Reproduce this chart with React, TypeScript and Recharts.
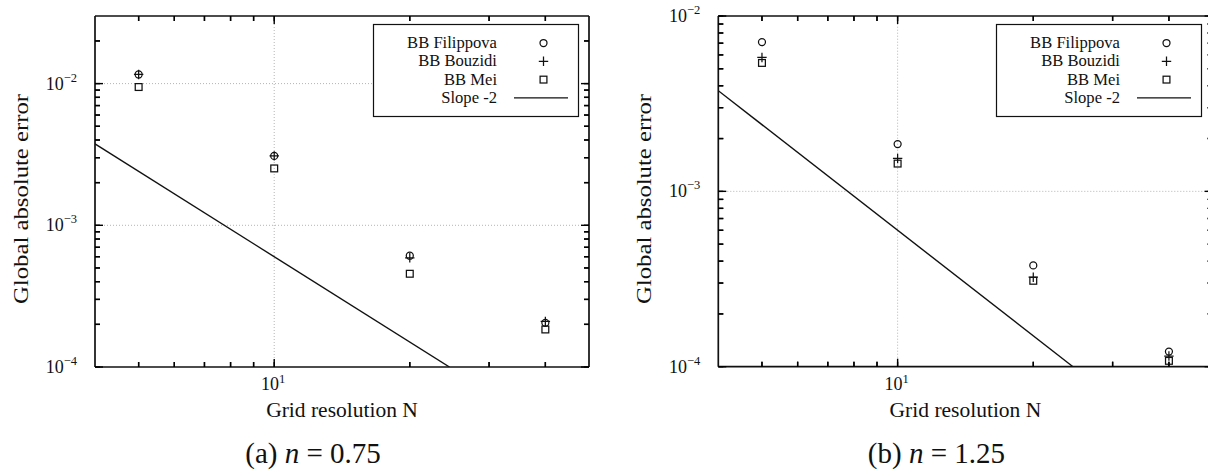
import React from 'react';
import { ComposedChart, Scatter, XAxis, YAxis, ReferenceLine, Legend } from 'recharts';

const FONT = '"Liberation Serif", "Times New Roman", Times, serif';
const INK = '#111111';
const GRID = '#b4b4b4';

// Grid resolutions N at which the error was measured
const gridN = [5, 10, 20, 40];

// (a) n = 0.75
const filippovaA = [0.0116, 0.00309, 6.1e-4, 2.05e-4];
const bouzidiA = [0.0116, 0.00309, 5.9e-4, 2.1e-4];
const meiA = [0.00946, 0.00252, 4.55e-4, 1.84e-4];

// (b) n = 1.25
const filippovaB = [7.1e-3, 1.86e-3, 3.78e-4, 1.22e-4];
const bouzidiB = [5.8e-3, 1.54e-3, 3.24e-4, 1.15e-4];
const meiB = [5.4e-3, 1.44e-3, 3.09e-4, 1.08e-4];

// Second-order reference line (slope -2), endpoints
const slopeN = [4, 24.5];
const slopeErr = [3.75e-3, 1e-4];

const seriesNames = ['BB Filippova', 'BB Bouzidi', 'BB Mei', 'Slope -2'];

const xTicks = [5, 6, 7, 8, 9, 10, 20, 30, 40];
const yTicksA = [
  1e-4, 2e-4, 3e-4, 4e-4, 5e-4, 6e-4, 7e-4, 8e-4, 9e-4,
  1e-3, 2e-3, 3e-3, 4e-3, 5e-3, 6e-3, 7e-3, 8e-3, 9e-3,
  1e-2, 2e-2,
];
const yTicksB = [
  1e-4, 2e-4, 3e-4, 4e-4, 5e-4, 6e-4, 7e-4, 8e-4, 9e-4,
  1e-3, 2e-3, 3e-3, 4e-3, 5e-3, 6e-3, 7e-3, 8e-3, 9e-3,
  1e-2,
];
const xGrid = [10];
const yGridA = [1e-3, 1e-2];
const yGridB = [1e-3];

const toPoints = (ys: number[]) => gridN.map((N, i) => ({ N, err: ys[i] }));
const slopePoints = slopeN.map((N, i) => ({ N, err: slopeErr[i] }));

const isDecade = (v: number) => Math.abs(Math.log10(v) - Math.round(Math.log10(v))) < 1e-6;
const expText = (v: number) => {
  const e = Math.round(Math.log10(v));
  return e < 0 ? '\u2212' + Math.abs(e) : String(e);
};

const CircleMark = (p: any) => (
  <circle cx={p.cx} cy={p.cy} r={3.5} fill="none" stroke={INK} strokeWidth={1.25} />
);
const PlusMark = (p: any) => (
  <path
    d={`M${p.cx - 4.7},${p.cy}H${p.cx + 4.7}M${p.cx},${p.cy - 4.7}V${p.cy + 4.7}`}
    fill="none"
    stroke={INK}
    strokeWidth={1.25}
  />
);
const SquareMark = (p: any) => (
  <rect x={p.cx - 3.4} y={p.cy - 3.4} width={6.8} height={6.8} fill="none" stroke={INK} strokeWidth={1.25} />
);
const NoMark = () => <g />;

type Side = 'bottom' | 'top' | 'left' | 'right';

// Inward tick length drawn by the axis itself (negative tickSize points into the plot)
const TICK_IN = 5;
const tickLineStyle = { stroke: '#000', strokeWidth: 1.4 };

// Decade ticks get an extra, longer inward stroke and a 10^k label
const makeTick = (side: Side, withLabel: boolean) => (props: any) => {
  const v = Number(props.payload.value);
  const major = isDecade(v);
  // recover the axis-line position from the inward-shifted tick anchor
  let x = Number(props.x);
  let y = Number(props.y);
  if (side === 'bottom') y += TICK_IN;
  if (side === 'top') y -= TICK_IN;
  if (side === 'left') x -= TICK_IN;
  if (side === 'right') x += TICK_IN;
  const len = major ? 8 : TICK_IN;
  let x2 = x;
  let y2 = y;
  if (side === 'bottom') y2 = y - len;
  if (side === 'top') y2 = y + len;
  if (side === 'left') x2 = x + len;
  if (side === 'right') x2 = x - len;
  return (
    <g>
      <line x1={x} y1={y} x2={x2} y2={y2} stroke="#000" strokeWidth={1.4} />
      {withLabel && major && side === 'bottom' && (
        <text x={x - 1} y={y + 23} textAnchor="middle" fontFamily={FONT} fontSize={18} fill={INK}>
          10
          <tspan dy={-7} fontSize={12.5}>
            {expText(v)}
          </tspan>
        </text>
      )}
      {withLabel && major && side === 'left' && (
        <text x={x - 18} y={y + 6} textAnchor="end" fontFamily={FONT} fontSize={18} fill={INK}>
          10
          <tspan dy={-8} fontSize={12.5}>
            {expText(v)}
          </tspan>
        </text>
      )}
    </g>
  );
};

const LegendBox = () => (
  <svg width={207} height={94} style={{ display: 'block', overflow: 'visible' }}>
    <rect x={0.5} y={0.5} width={205} height={92} fill="#fff" stroke={INK} strokeWidth={1.2} />
    {seriesNames.map((name, i) => {
      const cy = 19 + i * 18.3;
      return (
        <g key={name}>
          <text x={124} y={cy + 5} textAnchor="end" fontFamily={FONT} fontSize={16.6} fill={INK}>
            {name}
          </text>
          {i === 0 && <CircleMark cx={170.5} cy={cy} />}
          {i === 1 && <PlusMark cx={170.5} cy={cy} />}
          {i === 2 && <SquareMark cx={170.5} cy={cy} />}
          {i === 3 && <line x1={141} x2={195} y1={cy} y2={cy} stroke={INK} strokeWidth={1.3} />}
        </g>
      );
    })}
  </svg>
);

type Box = { left: number; top: number; right: number; bottom: number };

type PanelProps = {
  left: number;
  width: number;
  plot: Box; // plot rectangle in panel-local pixels
  yDomain: [number, number];
  yTicks: number[];
  yGrid: number[];
  filippova: number[];
  bouzidi: number[];
  mei: number[];
  tag: string;
  nValue: string;
};

const HEIGHT = 475;
const AXIS_T = 1; // thickness reserved by each axis

function Panel(p: PanelProps) {
  const { width, plot } = p;
  const margin = {
    top: plot.top - AXIS_T,
    left: plot.left - AXIS_T,
    right: width - plot.right - AXIS_T,
    bottom: HEIGHT - plot.bottom - AXIS_T,
  };
  const cx = (plot.left + plot.right) / 2;
  const axisLine = { stroke: INK, strokeWidth: 1.7 };

  const xTitle = () => (
    <g>
      <text x={cx} y={plot.bottom + 50} textAnchor="middle" fontFamily={FONT} fontSize={21.5} fill={INK}>
        Grid resolution N
      </text>
      <text x={cx - 29} y={plot.bottom + 96} textAnchor="middle" fontFamily={FONT} fontSize={29} fill={INK}>
        ({p.tag}){' '}
        <tspan fontStyle="italic">n</tspan>
        {' = '}
        {p.nValue}
      </text>
    </g>
  );

  const yTitle = () => {
    const tx = plot.left - 75;
    const ty = 199;
    return (
      <text
        x={tx}
        y={ty}
        dy="0.35em"
        transform={`rotate(-90 ${tx} ${ty})`}
        textAnchor="middle"
        fontFamily={FONT}
        fontSize={22}
        textLength={210}
        lengthAdjust="spacingAndGlyphs"
        fill={INK}
      >
        Global absolute error
      </text>
    );
  };

  const common = {
    type: 'number' as const,
    scale: 'log' as const,
    allowDataOverflow: true,
    interval: 0 as const,
    tickSize: -TICK_IN,
    tickMargin: 0,
    tickLine: tickLineStyle,
    axisLine,
  };

  return (
    <div style={{ position: 'absolute', left: p.left, top: 0 }}>
      <ComposedChart width={width} height={HEIGHT} margin={margin}>
        {p.yGrid.map((v) => (
          <ReferenceLine key={`gy${v}`} y={v} stroke={GRID} strokeWidth={1} strokeDasharray="1 2" />
        ))}
        {xGrid.map((v) => (
          <ReferenceLine key={`gx${v}`} x={v} stroke={GRID} strokeWidth={1} strokeDasharray="1 2" />
        ))}
        <XAxis
          {...common}
          dataKey="N"
          domain={[4, 50]}
          ticks={xTicks}
          height={AXIS_T}
          tick={makeTick('bottom', true)}
          label={xTitle}
        />
        <XAxis
          {...common}
          xAxisId="top"
          orientation="top"
          dataKey="N"
          domain={[4, 50]}
          ticks={xTicks}
          height={AXIS_T}
          tick={makeTick('top', false)}
        />
        <YAxis
          {...common}
          dataKey="err"
          domain={p.yDomain}
          ticks={p.yTicks}
          width={AXIS_T}
          tick={makeTick('left', true)}
          label={yTitle}
        />
        <YAxis
          {...common}
          yAxisId="right"
          orientation="right"
          dataKey="err"
          domain={p.yDomain}
          ticks={p.yTicks}
          width={AXIS_T}
          tick={makeTick('right', false)}
        />
        <Scatter
          name={seriesNames[3]}
          data={slopePoints}
          line={{ stroke: INK, strokeWidth: 1.4 }}
          shape={NoMark}
          isAnimationActive={false}
        />
        <Scatter name={seriesNames[0]} data={toPoints(p.filippova)} shape={CircleMark} isAnimationActive={false} />
        <Scatter name={seriesNames[1]} data={toPoints(p.bouzidi)} shape={PlusMark} isAnimationActive={false} />
        <Scatter name={seriesNames[2]} data={toPoints(p.mei)} shape={SquareMark} isAnimationActive={false} />
        <Legend
          layout="vertical"
          align="center"
          verticalAlign="middle"
          wrapperStyle={{ left: plot.right - 216.5, top: 24, width: 207, height: 94 }}
          content={() => <LegendBox />}
        />
      </ComposedChart>
    </div>
  );
}

export default function App() {
  return (
    <div
      style={{
        position: 'fixed',
        left: 0,
        top: 0,
        width: 1208,
        height: HEIGHT,
        overflow: 'hidden',
        background: '#fff',
      }}
    >
      <Panel
        left={0}
        width={600}
        plot={{ left: 95, top: 16, right: 589, bottom: 367 }}
        yDomain={[1e-4, 0.03]}
        yTicks={yTicksA}
        yGrid={yGridA}
        filippova={filippovaA}
        bouzidi={bouzidiA}
        mei={meiA}
        tag="a"
        nValue="0.75"
      />
      <Panel
        left={600}
        width={620}
        plot={{ left: 118.3, top: 16, right: 612.6, bottom: 366.7 }}
        yDomain={[1e-4, 1e-2]}
        yTicks={yTicksB}
        yGrid={yGridB}
        filippova={filippovaB}
        bouzidi={bouzidiB}
        mei={meiB}
        tag="b"
        nValue="1.25"
      />
    </div>
  );
}
